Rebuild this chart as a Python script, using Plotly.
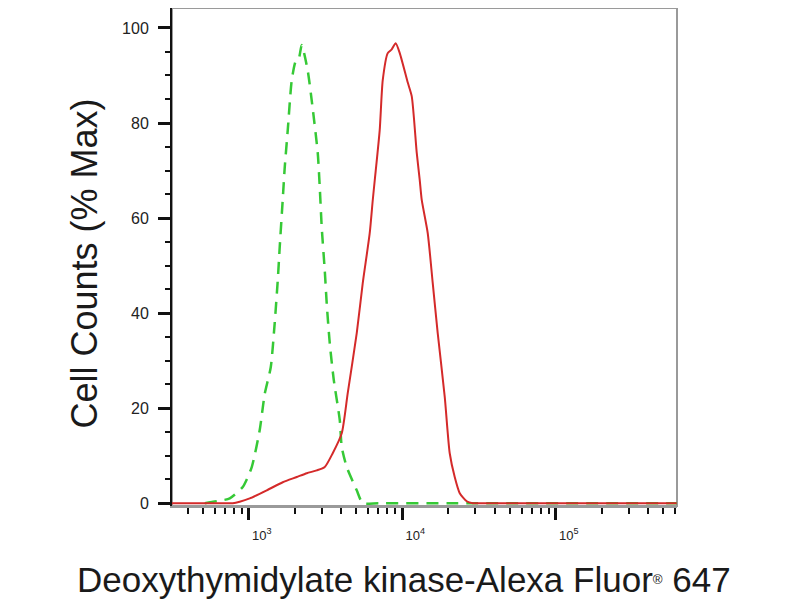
import plotly.graph_objects as go

# control (isotype) histogram - green dashed
control_x = [517, 647, 752, 914, 1046, 1179, 1271, 1391, 1476, 1546, 1592, 1666, 1716,
             1795, 1906, 2023, 2117, 2214, 2423, 2611, 2815, 2901, 2989, 3127, 3221,
             3370, 3578, 3916, 4036, 4349, 5053, 5529, 7000, 20000, 613762]
control_y = [0, 0.5, 1, 3.4, 7.6, 15.4, 23, 28.6, 37.9, 47, 54, 64, 70.7,
             78.5, 89, 93, 93.5, 96.4, 91, 83, 73.7, 66.5, 58, 49, 42,
             33.7, 26, 17.5, 11.8, 7.6, 2.7, 0, 0, 0, 0]

# stained sample histogram - red solid
sample_x = [300, 500, 787, 873, 1015, 1310, 1666, 2055, 2388, 2773, 3127, 3525, 4036, 4416,
            5053, 5529, 6138, 6427, 6622, 7132, 7464, 8045, 8544, 9071, 9634, 10864,
            11535, 12432, 13002, 13397, 14660, 15800, 17025, 18923, 20384, 21974,
            23696, 26303, 28774, 35000, 60000, 150000, 613762]
sample_y = [0, 0, 0, 0.3, 1, 2.7, 4.4, 5.5, 6.3, 6.9, 7.6, 10.5, 14.7, 23.2,
            35.8, 46.3, 56.8, 63.8, 68, 78.5, 89, 94.7, 95.5, 96.8, 94.7, 88.5,
            85.6, 73.7, 68, 63.8, 56.8, 46.3, 35.8, 22.3, 10.5, 5.5,
            2.1, 0.4, 0, 0, 0, 0, 0]

x_major = [1e3, 1e4, 1e5]
x_major_text = ["10<sup>3</sup>", "10<sup>4</sup>", "10<sup>5</sup>"]
y_major = [0, 20, 40, 60, 80, 100]

decades = [1e2, 1e3, 1e4, 1e5]
x_minor = [d * k for d in decades for k in range(2, 10)]

x_title = "Deoxythymidylate kinase-Alexa Fluor<span style='font-size:19px'><sup>®</sup></span> 647"
y_title = "Cell Counts (% Max)"

FONT = "Liberation Sans, Arial, sans-serif"

fig = go.Figure()
fig.add_trace(go.Scatter(
    x=control_x, y=control_y, mode="lines",
    line=dict(color="#36c936", width=2.5, dash="12px,8px",
              shape="spline", smoothing=0.6),
    hoverinfo="skip"
))
fig.add_trace(go.Scatter(
    x=sample_x, y=sample_y, mode="lines",
    line=dict(color="#d42a2a", width=2, shape="spline", smoothing=0.6),
    hoverinfo="skip"
))

# page body has an 8px margin, so the figure is sized to fit the window
fig.update_layout(
    width=792, height=592,
    margin=dict(l=164, r=123, t=0, b=94),
    paper_bgcolor="white",
    plot_bgcolor="white",
    showlegend=False,
    font=dict(family=FONT, color="#222222"),
    xaxis=dict(
        type="log",
        range=[2.5, 5.79],
        tickvals=x_major,
        ticktext=x_major_text,
        ticks="outside", ticklen=12, tickwidth=2.5, tickcolor="#111111",
        ticklabelshift=13, ticklabelstandoff=4,
        tickfont=dict(size=13, color="#222222"),
        minor=dict(tickvals=x_minor, ticks="outside", ticklen=6,
                   tickwidth=1.5, tickcolor="#111111"),
        showline=True, linecolor="#9a9a9a", linewidth=2,
        showgrid=False, zeroline=False,
    ),
    yaxis=dict(
        range=[-0.6, 104.2],
        tickvals=y_major,
        ticks="outside", ticklen=12, tickwidth=3, tickcolor="#111111",
        tickfont=dict(size=16, color="#222222"),
        ticklabelstandoff=6,
        minor=dict(dtick=5, ticks="outside", ticklen=5, tickwidth=2,
                   tickcolor="#111111"),
        showline=True, linecolor="#111111", linewidth=2,
        showgrid=False, zeroline=False,
    ),
    shapes=[dict(type="rect", xref="paper", yref="paper", x0=0, y0=0, x1=1, y1=1,
                 line=dict(color="#9a9a9a", width=2), layer="below")],
    annotations=[
        dict(text=y_title, xref="paper", yref="paper", x=-0.174, y=0.487,
             xanchor="center", yanchor="middle", textangle=-90, showarrow=False,
             font=dict(size=36, color="#1a1a1a", family=FONT)),
        dict(text=x_title, xref="paper", yref="paper", x=0.46, y=-0.147,
             xanchor="center", yanchor="middle", showarrow=False,
             font=dict(size=35, color="#1a1a1a", family=FONT)),
    ],
)

fig.write_html("out.html")
